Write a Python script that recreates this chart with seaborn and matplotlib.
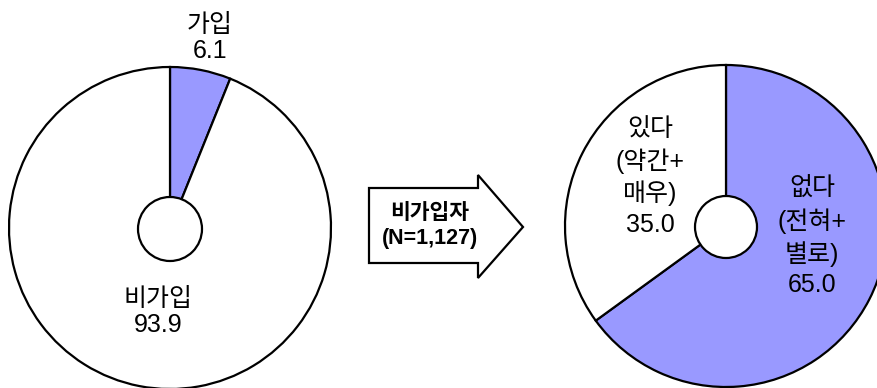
#%% import tools and libraries
import matplotlib
matplotlib.use('Agg')
import matplotlib.pyplot as plt
from matplotlib.patches import Circle, Polygon
import seaborn as sb

#%% data
labels_left = ['가입', '비가입']
values_left = [6.1, 93.9]
labels_right = ['없다\n(전혀+\n별로)', '있다\n(약간+\n매우)']
values_right = [65.0, 35.0]
arrow_text = ['비가입자', '(N=1,127)']
colors = ['#9999FF', 'white']

sb.set_style('white')
plt.rcParams['font.family'] = ['Liberation Sans', 'Noto Sans CJK KR', 'DejaVu Sans']
plt.rcParams['text.color'] = 'black'

fig = plt.figure(figsize=(8.78, 3.88), dpi=100)
ax = fig.add_axes([0, 0, 1, 1])

wp = {'edgecolor': 'black', 'linewidth': 1.6}

#%% left donut
ax.pie(values_left, colors=colors, startangle=90, counterclock=False,
       center=(170, 160), radius=161, wedgeprops=wp, frame=True)
ax.add_patch(Circle((170, 159), 32, facecolor='white', edgecolor='black', lw=1.6, zorder=5))

#%% right donut
ax.pie(values_right, colors=colors, startangle=90, counterclock=False,
       center=(726, 162), radius=161, wedgeprops=wp, frame=True)
ax.add_patch(Circle((726, 161), 31, facecolor='white', edgecolor='black', lw=1.6, zorder=5))

ax.set_xlim(0, 878)
ax.set_ylim(0, 388)
ax.set_aspect('equal')
ax.axis('off')

#%% labels
fs = 18
ax.text(210, 350, labels_left[0] + '\n' + '{:.1f}'.format(values_left[0]),
        ha='center', va='center', fontsize=fs, linespacing=1.1)
ax.text(158, 76, labels_left[1] + '\n' + '{:.1f}'.format(values_left[1]),
        ha='center', va='center', fontsize=fs, linespacing=1.1)
ax.text(812, 151, labels_right[0] + '\n' + '{:.1f}'.format(values_right[0]),
        ha='center', va='center', fontsize=fs, linespacing=1.35)
ax.text(650, 211, labels_right[1] + '\n' + '{:.1f}'.format(values_right[1]),
        ha='center', va='center', fontsize=fs, linespacing=1.35)

#%% arrow
arrow = Polygon([(369, 200), (478, 200), (478, 213), (523, 161), (478, 110),
                 (478, 125), (369, 125)], closed=True, facecolor='white',
                edgecolor='black', lw=1.6)
ax.add_patch(arrow)
ax.text(430, 162, '\n'.join(arrow_text), ha='center', va='center',
        fontsize=15.5, fontweight='bold', linespacing=1.25)

fig.savefig('out.png', dpi=100)
